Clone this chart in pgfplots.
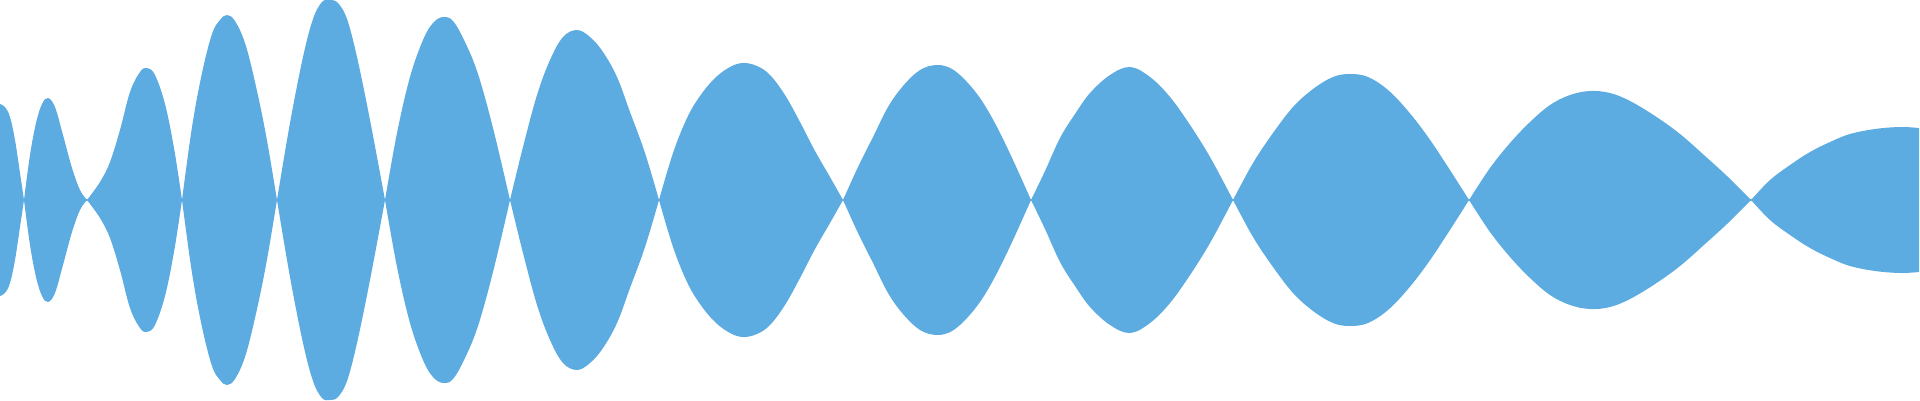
\documentclass[border=0pt]{standalone}
\usepackage{pgfplots}
\pgfplotsset{compat=1.18}
\definecolor{wave}{RGB}{93,172,225}

% one lobe of the envelope: upper half as given, lower half mirrored;
% the fill closes each half straight along the centre line
\newcommand\lobe[1]{%
  \addplot[smooth, tension=0.6, fill=wave, draw=none, mark=none] coordinates {#1};
  \addplot[smooth, tension=0.6, fill=wave, draw=none, mark=none, y filter/.expression={-y}] coordinates {#1};
}
% lobes cut off at the left or right edge: closed down to the centre line
\newcommand\edgelobe[1]{%
  \addplot[smooth, tension=0.6, fill=wave, draw=none, mark=none] coordinates {#1} \closedcycle;
  \addplot[smooth, tension=0.6, fill=wave, draw=none, mark=none, y filter/.expression={-y}] coordinates {#1} \closedcycle;
}

\begin{document}
\begin{tikzpicture}
\begin{axis}[
    scale only axis,
    width=16cm, height=3.3333cm,
    xmin=0, xmax=1920,
    ymin=-200, ymax=200,
    hide axis,
]
% invisible frame so the page is the full chart area
\addplot[draw=none, mark=none] coordinates {(0,-200) (1920,200)};

\edgelobe{(0,96) (5,93) (10,83) (15,60) (20,27) (24,0)}
\lobe{(24,0) (30,45) (36,77) (42,96) (48,102) (55,93) (63,65) (72,32) (80,10) (87,0)}
\lobe{(87,0) (100,18) (110,38) (120,70) (130,108) (140,128) (147,132) (155,125) (165,96) (174,52) (182,0)}
\lobe{(182,0) (192,73) (202,127) (212,166) (220,180) (227,185) (235,179) (245,157) (255,118) (266,65) (277,0)}
\lobe{(277,0) (290,77) (303,143) (313,181) (322,198) (330,200) (338,197) (347,181) (357,143) (370,80) (385,0)}
\lobe{(385,0) (397,67) (410,123) (423,160) (433,177) (443,183) (453,179) (465,158) (478,126) (493,72) (510,0)}
\lobe{(510,0) (523,53) (537,105) (550,140) (563,163) (577,170) (590,163) (603,148) (617,123) (630,88) (645,47) (659,0)}
\lobe{(659,0) (673,47) (687,82) (700,104) (715,122) (730,133) (743,137) (757,134) (770,125) (785,105) (800,78) (815,49) (830,23) (843,0)}
\lobe{(843,0) (858,33) (873,63) (888,93) (903,114) (920,130) (937,135) (952,131) (967,118) (982,99) (997,73) (1013,40) (1031,0)}
\lobe{(1031,0) (1045,29) (1060,62) (1075,86) (1090,107) (1110,125) (1130,133) (1150,123) (1170,103) (1190,75) (1210,43) (1233,0)}
\lobe{(1233,0) (1253,37) (1273,67) (1293,93) (1313,111) (1333,123) (1350,126) (1368,123) (1388,110) (1408,89) (1428,63) (1448,33) (1469,0)}
\lobe{(1469,0) (1490,32) (1510,57) (1530,78) (1550,95) (1570,105) (1590,109) (1610,107) (1630,99) (1655,84) (1680,66) (1705,44) (1728,23) (1751,0)}
\edgelobe{(1751,0) (1770,20) (1790,35) (1810,48) (1830,58) (1850,66) (1875,71) (1900,73) (1919,72)}

% hides the seam where the two halves meet
\addplot[wave, line width=0.3pt, mark=none] coordinates {(0,0) (1919,0)};
\end{axis}
\end{tikzpicture}
\end{document}
